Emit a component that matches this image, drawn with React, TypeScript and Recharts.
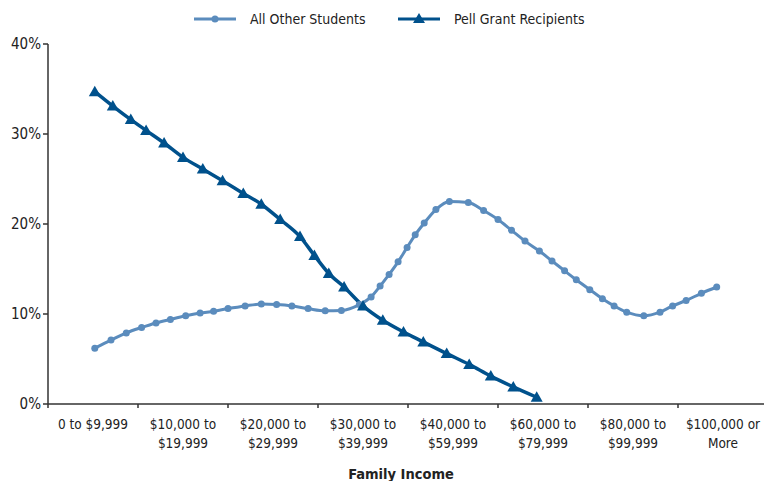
import { LineChart, Line, XAxis, YAxis } from 'recharts';

const categories = [
  '0 to $9,999',
  '$10,000 to\n$19,999',
  '$20,000 to\n$29,999',
  '$30,000 to\n$39,999',
  '$40,000 to\n$59,999',
  '$60,000 to\n$79,999',
  '$80,000 to\n$99,999',
  '$100,000 or\nMore',
];

// x positions are in category units (0 = left edge, 8 = right edge)
const otherX = [
  0.52, 0.7, 0.87, 1.04, 1.2, 1.36, 1.53, 1.69, 1.84, 2.0, 2.19, 2.37, 2.54, 2.71, 2.89, 3.08,
  3.26, 3.46, 3.59, 3.69, 3.79, 3.89, 3.99, 4.08, 4.18, 4.31, 4.46, 4.67, 4.84, 5.0, 5.15, 5.3,
  5.46, 5.6, 5.74, 5.87, 6.02, 6.16, 6.29, 6.43, 6.62, 6.8, 6.94, 7.09, 7.26, 7.43,
];
const otherY = [
  6.2, 7.1, 7.9, 8.5, 9.0, 9.4, 9.8, 10.1, 10.3, 10.6, 10.9, 11.1, 11.05, 10.9, 10.6, 10.35,
  10.4, 11.05, 11.9, 13.1, 14.4, 15.8, 17.4, 18.8, 20.1, 21.6, 22.5, 22.4, 21.5, 20.5, 19.3, 18.1,
  17.0, 15.9, 14.8, 13.8, 12.7, 11.7, 10.9, 10.2, 9.8, 10.2, 10.9, 11.5, 12.3, 13.0,
];
const pellX = [
  0.52, 0.72, 0.92, 1.09, 1.29, 1.5, 1.72, 1.94, 2.17, 2.37, 2.58, 2.8, 2.96, 3.12, 3.29, 3.5,
  3.72, 3.95, 4.17, 4.43, 4.68, 4.92, 5.17, 5.43,
];
const pellY = [
  34.7, 33.1, 31.6, 30.4, 29.0, 27.4, 26.1, 24.8, 23.4, 22.2, 20.5, 18.6, 16.5, 14.5, 13.0, 10.9,
  9.3, 8.0, 6.9, 5.6, 4.4, 3.1, 1.9, 0.75,
];
const yTicks = [0, 10, 20, 30, 40];

const otherData = otherX.map((x, i) => ({ x, v: otherY[i] }));
const pellData = pellX.map((x, i) => ({ x, v: pellY[i] }));

const OTHER = '#5b8cbd';
const PELL = '#00518c';
const TEXT = '#222';
const FONT = "'Liberation Sans Narrow', 'DejaVu Sans Condensed', sans-serif";

const PLOT_W = 720;
const BAND = PLOT_W / categories.length;

const CatTick = (props: any) => {
  const { x, y, payload } = props;
  const label = categories[payload.value];
  if (!label) return <g />;
  const lines = label.split('\n');
  return (
    <text x={x + BAND / 2} y={y + 19} textAnchor="middle" fill={TEXT} fontSize={13.5} fontFamily={FONT}>
      {lines.map((l, i) => (
        <tspan key={i} x={x + BAND / 2} dy={i === 0 ? 0 : 19}>
          {l}
        </tspan>
      ))}
    </text>
  );
};

const Triangle = (props: any) => {
  const { cx, cy } = props;
  if (cx == null || cy == null) return <g />;
  return <path d={`M${cx},${cy - 6} L${cx + 6},${cy + 4.5} L${cx - 6},${cy + 4.5} Z`} fill={PELL} />;
};

const series = [
  { name: 'All Other Students', color: OTHER, marker: 'circle', left: 194 },
  { name: 'Pell Grant Recipients', color: PELL, marker: 'triangle', left: 398 },
];

const LegendBar = () => (
  <>
    {series.map((s) => (
      <div
        key={s.name}
        style={{
          position: 'absolute',
          top: 11,
          left: s.left,
          display: 'flex',
          alignItems: 'center',
          gap: 14,
          fontFamily: FONT,
          fontSize: 14,
          color: TEXT,
          whiteSpace: 'nowrap',
        }}
      >
        <svg width={42} height={14}>
          <line x1={0} y1={7} x2={42} y2={7} stroke={s.color} strokeWidth={3} />
          {s.marker === 'circle' ? (
            <circle cx={21} cy={7} r={3.5} fill={s.color} />
          ) : (
            <path d="M21,1 L27,11 L15,11 Z" fill={s.color} />
          )}
        </svg>
        <span>{s.name}</span>
      </div>
    ))}
  </>
);

export default function App() {
  return (
    <div style={{ position: 'absolute', left: 0, top: 0, width: 764, height: 481, overflow: 'hidden', background: '#fff' }}>
      <LineChart width={768} height={481} margin={{ top: 44, right: 0, bottom: 0, left: 0 }}>
        <XAxis
          dataKey="x"
          type="number"
          domain={[0, 8]}
          ticks={[0, 1, 2, 3, 4, 5, 6, 7, 8]}
          interval={0}
          height={77}
          tick={<CatTick />}
          tickSize={4}
          stroke="#333"
          strokeWidth={1.5}
          allowDuplicatedCategory={false}
          label={{
            value: 'Family Income',
            position: 'insideBottom',
            offset: 2,
            dx: -7,
            fill: TEXT,
            fontSize: 14.5,
            fontWeight: 'bold',
            fontFamily: FONT,
          }}
        />
        <YAxis
          domain={[0, 40]}
          ticks={yTicks}
          width={48}
          tickSize={5}
          stroke="#333"
          strokeWidth={1.5}
          tickFormatter={(v) => `${v}%`}
          tick={{ fill: TEXT, fontSize: 15, fontFamily: FONT }}
        />
        <Line
          data={otherData}
          dataKey="v"
          type="monotone"
          stroke={OTHER}
          strokeWidth={3}
          dot={{ r: 3.5, fill: OTHER, stroke: OTHER, strokeWidth: 0 }}
          isAnimationActive={false}
        />
        <Line
          data={pellData}
          dataKey="v"
          type="monotone"
          stroke={PELL}
          strokeWidth={3.5}
          dot={<Triangle />}
          isAnimationActive={false}
        />
      </LineChart>
      <LegendBar />
    </div>
  );
}
